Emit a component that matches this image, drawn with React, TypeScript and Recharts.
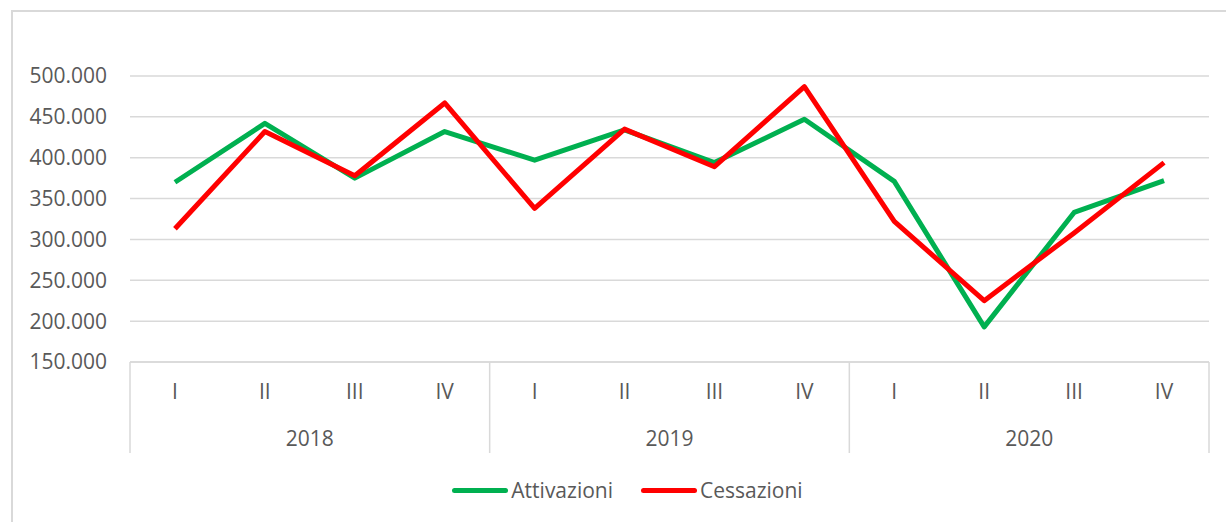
import React from 'react'
import { LineChart, Line, XAxis, YAxis, CartesianGrid, Legend } from 'recharts'

const quarterLabels = ['I', 'II', 'III', 'IV']
const years = ['2018', '2019', '2020']
const attivazioni = [370000, 442000, 375000, 432000, 397000, 434000, 394000, 447000, 371000, 193000, 333000, 372000]
const cessazioni = [313000, 432000, 378000, 467000, 338000, 435000, 389000, 487000, 322000, 225000, 308000, 394000]
const yTicks = [150000, 200000, 250000, 300000, 350000, 400000, 450000, 500000]

const data = years.flatMap((year, yi) =>
  quarterLabels.map((q, qi) => ({
    quarter: q,
    year,
    attivazioni: attivazioni[yi * 4 + qi],
    cessazioni: cessazioni[yi * 4 + qi],
  }))
)

const W = 1226
const H = 522
const MARGIN = { top: 76, right: 17, left: 0, bottom: 20 }
const Y_WIDTH = 130
const BAND = (W - MARGIN.left - MARGIN.right - Y_WIDTH) / data.length
const FONT = "'Open Sans', sans-serif"
const TEXT = '#595959'
const GRID = '#d9d9d9'

const fmt = (v: number) => String(v).replace(/\B(?=(\d{3})+(?!\d))/g, '.')

const labelStyle = { fontFamily: FONT, fontSize: 21, fill: TEXT }

function QuarterTick(props: any) {
  const { x, y, payload, index } = props
  const left = x - BAND / 2
  return (
    <g>
      <text x={x} y={y + 29} textAnchor="middle" dominantBaseline="central" style={labelStyle}>
        {payload.value}
      </text>
      {index % 4 === 0 && (
        <>
          <line x1={left} x2={left} y1={y} y2={y + 91} stroke={GRID} strokeWidth={1.5} />
          <text x={left + BAND * 2} y={y + 76} textAnchor="middle" dominantBaseline="central" style={labelStyle}>
            {data[index].year}
          </text>
        </>
      )}
      {index === data.length - 1 && (
        <line x1={x + BAND / 2} x2={x + BAND / 2} y1={y} y2={y + 91} stroke={GRID} strokeWidth={1.5} />
      )}
    </g>
  )
}

function LegendContent() {
  const items = [
    { label: 'Attivazioni', color: '#00b050' },
    { label: 'Cessazioni', color: '#ff0000' },
  ]
  return (
    <div style={{ height: 48, paddingTop: 24, paddingLeft: 46, boxSizing: 'border-box', display: 'flex', justifyContent: 'center', gap: 28, fontFamily: FONT, fontSize: 21, color: TEXT }}>
      {items.map((it) => (
        <div key={it.label} style={{ display: 'flex', alignItems: 'center', height: 24 }}>
          <span style={{ display: 'inline-block', width: 56, height: 5, borderRadius: 3, background: it.color, marginRight: 3 }} />
          <span>{it.label}</span>
        </div>
      ))}
    </div>
  )
}

export default function App() {
  return (
    <div style={{ position: 'relative', width: W, height: H, background: '#fff' }}>
      <style>{'body{margin:0}'}</style>
      <div style={{ position: 'absolute', left: 11, top: 10, right: 0, bottom: 0, borderLeft: `2px solid ${GRID}`, borderTop: `2px solid ${GRID}` }} />
      <LineChart width={W} height={H} data={data} margin={MARGIN}>
        <CartesianGrid vertical={false} stroke={GRID} strokeWidth={1.5} />
        <XAxis
          dataKey="quarter"
          interval={0}
          height={92}
          padding={{ left: BAND / 2, right: BAND / 2 }}
          tickLine={false}
          tickSize={0}
          tickMargin={0}
          axisLine={{ stroke: GRID, strokeWidth: 1.5 }}
          tick={(p: any) => <QuarterTick {...p} />}
        />
        <YAxis
          width={Y_WIDTH}
          domain={[150000, 500000]}
          ticks={yTicks}
          tickFormatter={fmt}
          axisLine={false}
          tickLine={false}
          tickSize={0}
          tickMargin={23}
          tick={{ fill: TEXT, fontSize: 21, fontFamily: FONT }}
        />
        <Legend verticalAlign="bottom" content={<LegendContent />} />
        <Line type="linear" dataKey="attivazioni" name="Attivazioni" stroke="#00b050" strokeWidth={5} dot={false} strokeLinejoin="round" isAnimationActive={false} />
        <Line type="linear" dataKey="cessazioni" name="Cessazioni" stroke="#ff0000" strokeWidth={5} dot={false} strokeLinejoin="round" isAnimationActive={false} />
      </LineChart>
    </div>
  )
}
